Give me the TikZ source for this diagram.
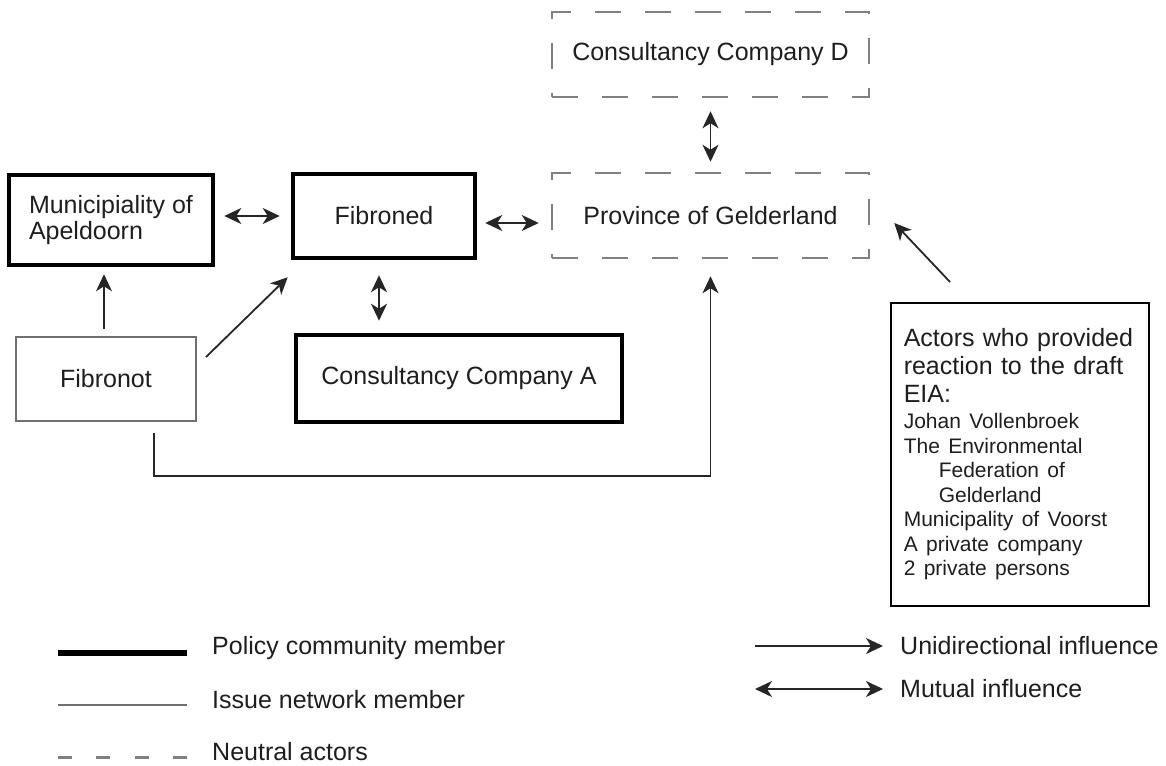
\documentclass[tikz,border=0pt]{standalone}
\usepackage{fontspec}
\setmainfont{Liberation Sans}
\usetikzlibrary{arrows.meta}
\definecolor{dashgray}{HTML}{808080}
\definecolor{thingray}{HTML}{707070}
\definecolor{textgray}{HTML}{1E1E1E}
\definecolor{arrowgray}{HTML}{262626}
\newcommand\smallfont{\fontsize{21}{24.5}\selectfont}
\tikzset{
	actor/.style={rectangle, text=textgray, font=\fontsize{25}{26}\selectfont, inner sep=0pt},
	policy/.style={actor, draw=black, line width=4.5pt},
	issue/.style={actor, draw=thingray, line width=1.8pt},
	neutral/.style={actor, draw=dashgray, line width=2.5pt, dash pattern=on 26pt off 24pt},
	reactbox/.style={rectangle, draw=black, line width=1.5pt, text=textgray, align=left,
		text width=232pt, inner xsep=13pt, inner ysep=0pt, minimum height=303pt,
		font=\fontsize{25}{28}\selectfont\setlength{\parindent}{0pt}},
	tip/.tip={Stealth[length=17pt,width=16pt,inset=5pt]},
	uni/.style={draw=arrowgray, line width=1.8pt, -tip},
	mutual/.style={draw=arrowgray, line width=1.8pt, tip-tip},
	policyline/.style={line width=6pt},
	issueline/.style={draw=thingray, line width=2pt},
	neutralline/.style={draw=dashgray, line width=3pt, dash pattern=on 14pt off 24.3pt},
	legendtext/.style={anchor=west, inner sep=0pt, text=textgray, font=\fontsize{25}{26}\selectfont}
}
\begin{document}
\begin{tikzpicture}[x=1pt,y=-1pt]
	\useasboundingbox (0,0) rectangle (1166,765);
	%actors
	\node[policy, minimum width=204pt, minimum height=90pt, align=left] (mun) at (111,220) {Municipiality of\\Apeldoorn};
	\node[policy, minimum width=182pt, minimum height=84pt] (fibroned) at (384,216) {Fibroned};
	\node[policy, minimum width=326pt, minimum height=87pt] (consa) at (459,378.5) {Consultancy Company A};
	\node[issue, minimum width=180pt, minimum height=84pt] (fibronot) at (106,379) {Fibronot};
	\node[neutral, minimum width=317pt, minimum height=85pt] (consd) at (710.5,54.5) {Consultancy Company D};
	\node[neutral, minimum width=317pt, minimum height=85pt] (province) at (710.5,215.5) {Province of Gelderland};
	% reactions
	\node[reactbox, anchor=north west] (reactors) at (890,302) {Actors who provided\\reaction to the draft\\EIA:\par
		\smallfont\vspace*{2pt}Johan Vollenbroek\\The Environmental\\\hspace*{35pt}Federation of\\\hspace*{35pt}Gelderland\\Municipality of Voorst\\A private company\\2 private persons\par};
	% influence
	\draw[mutual, shorten <=9pt, shorten >=11pt] (fibroned.west -| mun.east) -- (fibroned.west);
	\draw[mutual, shorten <=8pt, shorten >=12pt] ([yshift=-7pt]fibroned.east) -- ([yshift=-7pt]fibroned.east -| province.west);
	\draw[mutual, shorten <=15pt, shorten >=12pt] ([xshift=-5pt]fibroned.south) -- ([xshift=-5pt]fibroned.south |- consa.north);
	\draw[mutual, shorten <=13pt, shorten >=10pt] (consd.south) -- (province.north);
	\draw[uni, shorten <=7pt, shorten >=7pt] ([xshift=-2pt]fibronot.north) -- ([xshift=-2pt]fibronot.north |- mun.south);
	\draw[uni] ([xshift=9pt,yshift=-21pt]fibronot.north east) -- ([xshift=-3pt,yshift=-17pt]fibroned.south west);
	\draw[uni, shorten >=17pt] ([xshift=48pt,yshift=-11pt]fibronot.south) |- ([yshift=-217pt]province.south) -- (province.south);
	\draw[uni] ([xshift=60pt,yshift=20pt]reactors.north west) -- ([xshift=24pt,yshift=-7.5pt]province.east);
	%legend
	\foreach \name/\ypos/\kind/\lab in {pcm/653/policyline/Policy community member,
		inm/705/issueline/Issue network member, neu/757/neutralline/Neutral actors}
		{
			\coordinate (\name a) at (58,\ypos);
			\coordinate (\name b) at (187,\ypos);
			\draw[\kind] (\name a) -- (\name b);
			\node[legendtext] (\name) at (212,\ypos-5) {\lab};
		}
	\foreach \name/\ypos/\kind/\lab in {unikey/646/uni/Unidirectional influence,
		mutkey/689/mutual/Mutual influence}
		{
			\coordinate (\name a) at (755,\ypos);
			\coordinate (\name b) at (883,\ypos);
			\draw[\kind] (\name a) -- (\name b);
			\node[legendtext] (\name) at (900,\ypos) {\lab};
		}
\end{tikzpicture}
\end{document}
